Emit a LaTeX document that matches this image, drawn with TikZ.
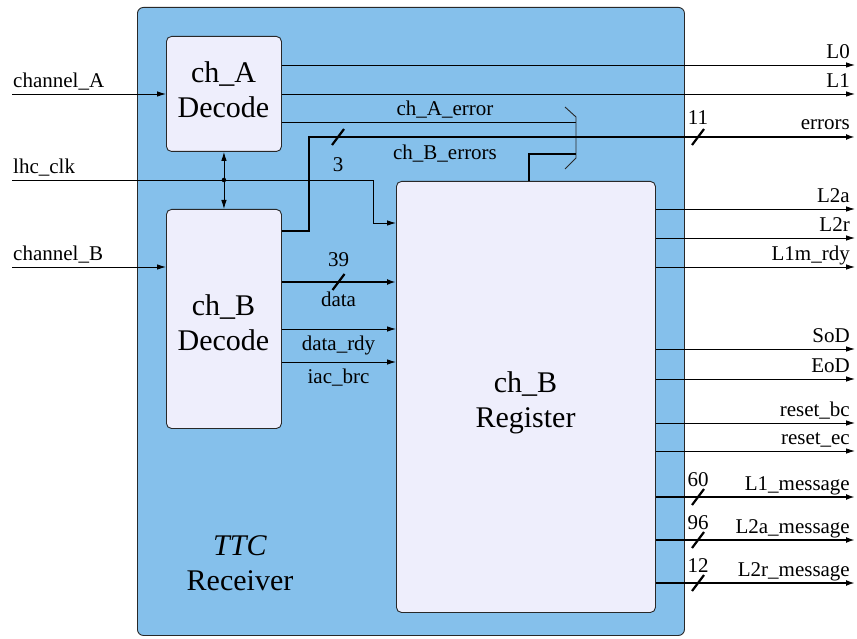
\documentclass[tikz,border=0pt]{standalone}
\usepackage{fontspec}
\setmainfont{Liberation Serif}
\usetikzlibrary{arrows.meta}
\definecolor{rxblue}{RGB}{133,192,235}
\definecolor{blockfill}{RGB}{238,238,252}
\definecolor{edgegray}{RGB}{40,40,40}
\begin{document}
\begin{tikzpicture}[x=1pt,y=-1pt,
  sig/.style={line width=0.9pt,-{Latex[length=9pt,width=5.5pt]}},
  wire/.style={line width=0.9pt},
  bus/.style={line width=2.6pt,-{Latex[length=9pt,width=6pt]}},
  busline/.style={line width=2.6pt},
  slash/.style={line width=2.2pt},
  lbl/.style={font=\fontsize{21}{25}\selectfont,inner sep=0pt},
  big/.style={font=\fontsize{30}{35}\selectfont,align=center,inner sep=0pt},
  block/.style={draw=edgegray,line width=0.9pt,fill=blockfill,rounded corners=5pt,inner sep=0pt,anchor=north west},
]
\useasboundingbox (0,0) rectangle (857,639);

% receiver enclosure
\node[draw=edgegray,line width=0.9pt,fill=rxblue,rounded corners=6pt,inner sep=0pt,anchor=north west,
      minimum width=547pt,minimum height=628pt] (ttc) at (137,7) {};
\node[big] (ttclabel) at (240,563) {\textit{TTC}\\Receiver};

% functional blocks
\node[block,minimum width=115pt,minimum height=115pt] (chA) at (166,36) {};
\node[block,minimum width=115pt,minimum height=219pt] (chB) at (166,209) {};
\node[block,minimum width=259pt,minimum height=431pt] (reg) at (396,181) {};
\node[big] (chAtext) at (223.5,90) {ch\_A\\Decode};
\node[big] (chBtext) at (223.5,323) {ch\_B\\Decode};
\node[big] (regtext) at (525.5,403) {ch\_B\\Register};

% inputs
\coordinate (inA) at (12,94);
\coordinate (inclk) at (12,180);
\coordinate (inB) at (12,267);
\node[lbl,anchor=base west] (lA) at (13,88) {channel\_A};
\node[lbl,anchor=base west] (lclk) at (13,174) {lhc\_clk};
\node[lbl,anchor=base west] (lB) at (13,261) {channel\_B};
\draw[sig] (inA) -- (inA -| chA.west);
\draw[sig] (inB) -- (inB -| chB.west);
\draw[sig] (inclk) -- (373,180) -- (373,223) -- (reg.west |- 0,223);

% clock link between the decoders
\draw[line width=0.9pt,{Latex[length=9pt,width=5.5pt]}-{Latex[length=9pt,width=5.5pt]}] (chA.south) -- (chB.north);
\node[circle,fill,inner sep=0pt,minimum size=4.5pt] (clkdot) at (chA.south |- inclk) {};

% ch_A outputs
\draw[sig] (chA.east |- 0,65) -- (855,65);
\node[lbl,anchor=base east] (lL0) at (850,59) {L0};
\draw[sig] (chA.east |- 0,94) -- (855,94);
\node[lbl,anchor=base east] (lL1) at (850,88) {L1};
\draw[wire] (chA.east |- 0,122) -- (576,122);
\node[lbl,anchor=base] (lAerr) at (445,116) {ch\_A\_error};

% error bus merge
\draw[line width=0.9pt,draw=edgegray] (565,107) -- (576,117) -- (576,158) -- (565,169);
\draw[busline] (reg.north -| 529,0) -- (529,154) -- (576,154);
\node[lbl,anchor=base] (lBerr) at (445,160) {ch\_B\_errors};

% errors bus
\draw[bus] (chB.east |- 0,231) -- (309,231) -- (309,137) -- (855,137);
\draw[slash] (332,145) -- (344,129);
\node[lbl,anchor=base] (w3) at (338,172) {3};
\draw[slash] (692,145) -- (704,129);
\node[lbl,anchor=base] (w11) at (698,125) {11};
\node[lbl,anchor=base east] (lerr) at (850,130) {errors};

% ch_B decode to register
\draw[bus] (chB.east |- 0,282) -- (reg.west |- 0,282);
\draw[slash] (332.5,290) -- (344.5,274);
\node[lbl,anchor=base] (w39) at (338.5,267) {39};
\node[lbl,anchor=base] (ldata) at (338.5,306) {data};
\draw[sig] (chB.east |- 0,329) -- (reg.west |- 0,329);
\node[lbl,anchor=base] (lrdy) at (338.5,350) {data\_rdy};
\draw[sig] (chB.east |- 0,362) -- (reg.west |- 0,362);
\node[lbl,anchor=base] (liac) at (338.5,383) {iac\_brc};

% register single-bit outputs
\foreach \yy/\txt [count=\i] in {209/L2a,238/L2r,267/L1m\_rdy,349/SoD,379/EoD,423/reset\_bc,451/reset\_ec}{
  \draw[sig] (reg.east |- 0,\yy) -- (855,\yy);
  \node[lbl,anchor=base east] (rout\i) at (850,\yy-6.5) {\txt};
}

% register bus outputs
\foreach \yy/\w/\txt [count=\i] in {497/60/L1\_message,540/96/L2a\_message,583/12/L2r\_message}{
  \draw[bus] (reg.east |- 0,\yy) -- (855,\yy);
  \draw[slash] (692,\yy+8) -- (704,\yy-8);
  \node[lbl,anchor=base] (bw\i) at (698,\yy-11) {\w};
  \node[lbl,anchor=base east] (bout\i) at (850,\yy-7) {\txt};
}
\end{tikzpicture}
\end{document}
